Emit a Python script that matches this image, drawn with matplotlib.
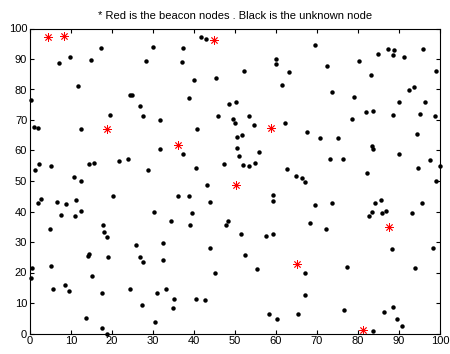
import matplotlib
matplotlib.use('Agg')
import matplotlib.pyplot as plt
import numpy as np

plt.rcParams['font.family'] = ['Liberation Sans', 'DejaVu Sans']

# beacon nodes (red)
beacon_x = [4.3, 8.4, 18.9, 45.0, 36.1, 58.7, 50.3, 65.0, 87.6, 81.2]
beacon_y = [97.3, 97.6, 67.0, 96.3, 61.8, 67.4, 48.6, 22.7, 34.8, 1.1]

# unknown nodes (black)
unknown_x = [7.1, 9.8, 14.9, 17.2, 11.7, 0.3, 24.4, 24.9, 26.9, 27.6, 28.2, 30.1, 19.5, 0.9,
             2.0, 12.4, 31.7, 37.3, 41.7, 42.9, 37.1, 59.9, 59.9, 52.1, 63.2, 40.1, 45.4, 61.5,
             38.7, 48.6, 50.2, 45.9, 49.5, 50.1, 53.4, 54.6, 62.2, 40.7, 69.6, 72.4, 73.7, 79.1,
             78.6, 80.2, 83.2, 82.0, 83.7, 85.0, 87.3, 88.8, 88.6, 91.3, 95.9, 92.4, 93.7, 90.1,
             96.3, 99.0, 88.6, 95.2, 98.7, 2.3, 1.3, 5.0, 14.4, 15.6, 21.8, 24.0, 28.7, 31.7,
             10.8, 12.4, 2.0, 2.8, 6.7, 8.7, 11.2, 20.2, 7.6, 11.0, 12.4, 17.7, 30.2, 4.8,
             50.5, 51.6, 37.3, 50.5, 50.9, 55.9, 47.2, 51.9, 53.4, 54.9, 40.6, 62.7, 64.8, 43.1,
             36.2, 38.9, 44.0, 59.3, 59.3, 39.6, 34.3, 48.4, 47.7, 39.1, 67.6, 70.8, 75.0, 94.3,
             83.5, 83.7, 73.1, 76.3, 89.9, 97.6, 99.9, 94.6, 82.1, 66.4, 67.1, 99.0, 69.6, 73.6,
             84.1, 85.5, 83.5, 82.8, 85.8, 86.9, 93.2, 95.7, 68.2, 72.2, 18.0, 18.9, 25.8, 26.9,
             27.6, 14.1, 14.3, 19.1, 0.5, 0.2, 5.0, 15.0, 5.7, 8.5, 9.6, 17.5, 24.4, 30.9,
             27.2, 13.6, 17.5, 18.9, 30.4, 51.5, 57.6, 59.2, 32.4, 44.0, 52.5, 32.4, 45.2, 55.3,
             33.1, 35.0, 34.9, 40.6, 42.6, 58.3, 60.2, 65.4, 88.3, 98.2, 67.1, 77.4, 94.0, 67.1,
             76.5, 86.4, 88.5, 89.4, 90.7, 83.7]
unknown_y = [88.6, 90.7, 89.8, 93.6, 81.2, 76.6, 78.3, 78.3, 74.7, 71.4, 89.4, 93.9, 71.7, 67.7,
             67.3, 67.0, 69.9, 93.6, 97.2, 96.6, 88.9, 90.0, 88.3, 86.2, 85.6, 83.0, 83.8, 81.5,
             77.3, 75.3, 75.9, 71.2, 70.3, 69.1, 71.4, 68.3, 69.1, 67.0, 94.5, 87.7, 79.2, 77.6,
             70.3, 89.4, 84.8, 72.7, 73.0, 91.6, 93.3, 93.0, 91.2, 90.7, 93.3, 79.7, 80.9, 76.0,
             76.0, 86.2, 71.7, 72.1, 71.2, 55.6, 53.5, 55.0, 55.6, 55.8, 56.7, 57.3, 53.7, 60.5,
             51.2, 49.9, 42.9, 44.1, 43.2, 42.4, 43.8, 45.0, 38.9, 38.4, 40.3, 35.6, 39.7, 34.2,
             64.4, 65.2, 58.9, 60.8, 58.2, 59.4, 55.6, 55.3, 55.0, 55.9, 54.4, 53.8, 51.7, 48.8,
             45.0, 45.0, 43.2, 45.5, 43.4, 39.4, 37.0, 37.0, 35.5, 35.5, 66.2, 64.1, 64.1, 65.3,
             61.5, 60.6, 57.3, 57.3, 58.9, 56.8, 55.0, 54.4, 52.6, 51.1, 49.7, 49.9, 42.0, 42.7,
             42.9, 43.8, 39.9, 38.5, 39.6, 40.3, 39.4, 42.7, 36.1, 34.3, 33.2, 31.7, 29.0, 25.2,
             23.4, 25.4, 26.1, 25.2, 21.4, 18.1, 22.2, 19.0, 14.6, 15.8, 14.0, 13.2, 14.6, 13.2,
             9.2, 5.1, 1.7, 0.0, 3.7, 32.5, 32.0, 32.5, 29.6, 28.1, 25.7, 24.0, 19.9, 21.0,
             14.6, 11.3, 8.4, 11.3, 11.0, 6.3, 4.9, 6.3, 27.8, 28.1, 19.9, 21.9, 21.4, 12.5,
             7.6, 7.0, 8.7, 4.6, 2.6, 0.7]

fig = plt.figure(figsize=(4.5, 3.54), dpi=100)
ax = fig.add_axes([30/450, 20.5/354, 410/450, 305/354])

ax.plot(unknown_x, unknown_y, 'o', color='k', markersize=3.2, markeredgewidth=0, clip_on=False)
ax.plot(beacon_x, beacon_y, linestyle='none', marker=(8, 2, 0), color='red',
        markersize=6, markeredgewidth=0.6, clip_on=False)

ax.set_xlim(0, 100)
ax.set_ylim(0, 100)
ax.set_xticks(np.arange(0, 101, 10))
ax.set_yticks(np.arange(0, 101, 10))
ax.tick_params(direction='in', top=True, right=True, length=3, width=0.8,
               labelsize=8, pad=2)
for s in ax.spines.values():
    s.set_linewidth(0.8)
ax.set_title('* Red is the beacon nodes . Black is the unknown node', fontsize=8, pad=7)

fig.savefig('out.png', dpi=100)
